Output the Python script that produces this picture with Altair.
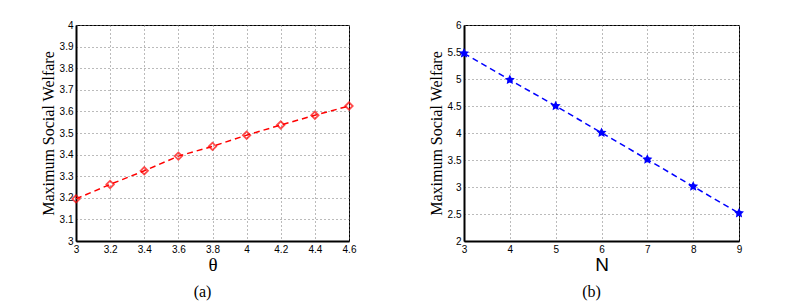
import altair as alt
import pandas as pd

theta = [3.0, 3.2, 3.4, 3.6, 3.8, 4.0, 4.2, 4.4, 4.6]
welfare_a = [3.195, 3.262, 3.325, 3.393, 3.438, 3.490, 3.537, 3.582, 3.625]
n_vals = [3, 4, 5, 6, 7, 8, 9]
welfare_b = [5.475, 4.985, 4.50, 4.005, 3.51, 3.01, 2.515]

xa_ticks = [3.0, 3.2, 3.4, 3.6, 3.8, 4.0, 4.2, 4.4, 4.6]
ya_ticks = [3.0, 3.1, 3.2, 3.3, 3.4, 3.5, 3.6, 3.7, 3.8, 3.9, 4.0]
xb_ticks = [3, 4, 5, 6, 7, 8, 9]
yb_ticks = [2, 2.5, 3, 3.5, 4, 4.5, 5, 5.5, 6]

df_a = pd.DataFrame({"theta": theta, "w": welfare_a})
df_b = pd.DataFrame({"n": n_vals, "w": welfare_b})

W, H = 273, 216
SERIF = "Times New Roman, Liberation Serif, serif"
SANS = "Arial, Liberation Sans, sans-serif"

def axis(values, title, title_font, title_size, title_pad):
    return alt.Axis(values=values, title=title, titleFont=title_font,
                    titleFontSize=title_size, titleFontWeight="normal",
                    titleColor="black", labelFont=SANS,
                    labelFontSize=10, labelColor="black", labelPadding=3,
                    ticks=False, grid=True, gridColor="#777777",
                    gridDash=[1, 3], gridWidth=1, domainColor="black",
                    domainWidth=2, format="~g", titlePadding=title_pad,
                    labelFlush=False, labelOverlap=False)

def caption(text):
    return alt.TitleParams(text, orient="bottom", font=SERIF, frame="group",
                           fontSize=16, fontWeight="normal", color="black",
                           offset=10, dx=-10)

xa = alt.X("theta:Q", scale=alt.Scale(domain=[3, 4.6], nice=False, zero=False),
           axis=axis(xa_ticks, "θ", SERIF, 19, 1))
ya = alt.Y("w:Q", scale=alt.Scale(domain=[3, 4], nice=False, zero=False),
           axis=axis(ya_ticks, "Maximum Social Welfare", SERIF, 16, 3))

line_a = alt.Chart(df_a).mark_line(color="#ff0000", strokeDash=[6, 4], strokeWidth=1.5).encode(x=xa, y=ya)
pts_a = alt.Chart(df_a).mark_point(shape="diamond", color="#ff0000", filled=False,
                                    size=55, strokeWidth=1.8).encode(x=xa, y=ya)
chart_a = alt.layer(line_a, pts_a).properties(width=W, height=H, title=caption("(a)"))

xb = alt.X("n:Q", scale=alt.Scale(domain=[3, 9], nice=False, zero=False),
           axis=axis(xb_ticks, "N", SANS, 19, 1))
yb = alt.Y("w:Q", scale=alt.Scale(domain=[2, 6], nice=False, zero=False),
           axis=axis(yb_ticks, "Maximum Social Welfare", SERIF, 16, 3))

line_b = alt.Chart(df_b).mark_line(color="#0000ff", strokeDash=[6, 4], strokeWidth=1.5).encode(x=xb, y=yb)
pts_b = alt.Chart(df_b).mark_point(shape="M0,-1L0.29,-0.4L0.95,-0.31L0.47,0.15L0.59,0.81L0,0.5L-0.59,0.81L-0.47,0.15L-0.95,-0.31L-0.29,-0.4Z",
                                    color="#0000ff", filled=True, size=110, opacity=1).encode(x=xb, y=yb)
chart_b = alt.layer(line_b, pts_b).properties(width=W + 2, height=H, title=caption("(b)"))

chart = alt.hconcat(chart_a, chart_b, spacing=70).configure_view(
    stroke="black", strokeWidth=1
).properties(padding={"left": 31, "top": 11, "right": 5, "bottom": 5})

chart.save("out.html", embed_options={"renderer": "svg", "actions": False})
